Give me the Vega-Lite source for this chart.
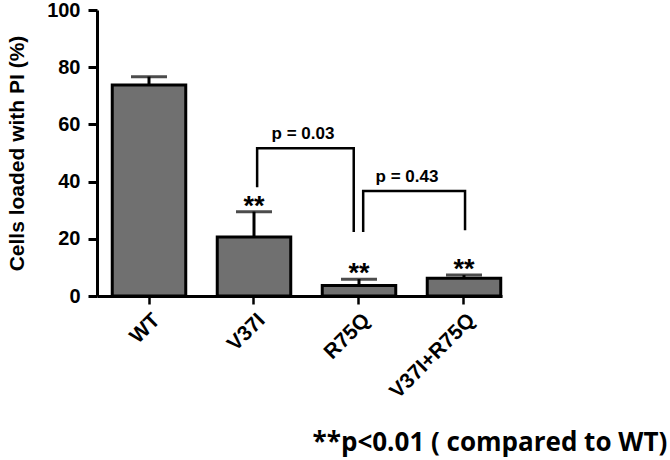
{
  "$schema": "https://vega.github.io/schema/vega-lite/v6.json",
  "width": 405,
  "height": 286,
  "autosize": "none",
  "padding": {"left": 97, "top": 10, "right": 168, "bottom": 164},
  "background": "white",
  "config": {
    "view": {"stroke": null},
    "font": "Liberation Sans",
    "axis": {"domainColor": "black", "tickColor": "black", "labelColor": "black", "titleColor": "black", "grid": false, "labelFont": "Liberation Sans", "titleFont": "Liberation Sans"}
  },
  "title": {
    "text": "**p<0.01 ( compared to WT)",
    "orient": "bottom",
    "anchor": "end",
    "font": "Open Sans",
    "fontSize": 26,
    "fontWeight": "bold",
    "color": "black",
    "dx": 165,
    "offset": 28
  },
  "datasets": {
    "bars": [
      {"g": "WT", "m": 73.8, "up": 76.7, "star": ""},
      {"g": "V37I", "m": 20.6, "up": 29.5, "star": "**"},
      {"g": "R75Q", "m": 3.7, "up": 5.9, "star": "**"},
      {"g": "V37I+R75Q", "m": 6.2, "up": 7.3, "star": "**"}
    ],
    "bracket": [
      {"b": "b1", "o": 1, "px": 1.03, "val": 38},
      {"b": "b1", "o": 2, "px": 1.03, "val": 51.7},
      {"b": "b1", "o": 3, "px": 1.95, "val": 51.7},
      {"b": "b1", "o": 4, "px": 1.95, "val": 22.4},
      {"b": "b2", "o": 1, "px": 2.04, "val": 22.4},
      {"b": "b2", "o": 2, "px": 2.04, "val": 36.7},
      {"b": "b2", "o": 3, "px": 3.01, "val": 36.7},
      {"b": "b2", "o": 4, "px": 3.01, "val": 23}
    ],
    "plabels": [
      {"t": "p = 0.03", "px": 1.467, "val": 55},
      {"t": "p = 0.43", "px": 2.457, "val": 40}
    ]
  },
  "resolve": {"scale": {"x": "independent"}},
  "layer": [
    {
      "data": {"name": "bars"},
      "encoding": {
        "x": {
          "field": "g",
          "type": "nominal",
          "sort": null,
          "scale": {"paddingInner": 0.3, "paddingOuter": 0.0786, "align": 0.924},
          "axis": {
            "title": null,
            "labelAngle": -45,
            "labelFontSize": 21,
            "labelFontWeight": "bold",
            "tickSize": 8,
            "tickWidth": 2.5,
            "domainWidth": 3,
            "labelPadding": 5
          }
        }
      },
      "layer": [
        {
          "mark": {"type": "bar", "fill": "#707070", "stroke": "black", "strokeWidth": 3},
          "encoding": {
            "y": {
              "field": "m",
              "type": "quantitative",
              "scale": {"domain": [0, 100], "nice": false},
              "axis": {
                "title": "Cells loaded with PI (%)",
                "titleFontSize": 21,
                "titleFontWeight": "bold",
                "titlePadding": 19,
                "labelFontSize": 20,
                "labelFontWeight": "bold",
                "labelPadding": 8,
                "values": [0, 20, 40, 60, 80, 100],
                "tickSize": 9,
                "tickWidth": 3,
                "domainWidth": 3
              }
            }
          }
        },
        {
          "mark": {"type": "rule", "color": "black", "strokeWidth": 3},
          "encoding": {
            "y": {"field": "m", "type": "quantitative"},
            "y2": {"field": "up"}
          }
        },
        {
          "mark": {"type": "tick", "color": "black", "size": 36, "thickness": 3},
          "encoding": {
            "y": {"field": "up", "type": "quantitative"}
          }
        },
        {
          "transform": [{"filter": "datum.star != ''"}],
          "mark": {"type": "text", "fontSize": 27, "fontWeight": "bold", "baseline": "alphabetic", "dy": 3, "color": "black"},
          "encoding": {
            "y": {"field": "up", "type": "quantitative"},
            "text": {"field": "star"}
          }
        }
      ]
    },
    {
      "data": {"name": "bracket"},
      "mark": {"type": "line", "color": "black", "strokeWidth": 2.5, "strokeJoin": "miter", "strokeCap": "butt"},
      "encoding": {
        "x": {"field": "px", "type": "quantitative", "scale": {"domain": [-0.495, 3.362], "nice": false, "zero": false}, "axis": null},
        "y": {"field": "val", "type": "quantitative"},
        "detail": {"field": "b"},
        "order": {"field": "o"}
      }
    },
    {
      "data": {"name": "plabels"},
      "mark": {"type": "text", "fontSize": 17, "fontWeight": "bold", "baseline": "alphabetic", "color": "black"},
      "encoding": {
        "x": {"field": "px", "type": "quantitative", "scale": {"domain": [-0.495, 3.362], "nice": false, "zero": false}, "axis": null},
        "y": {"field": "val", "type": "quantitative"},
        "text": {"field": "t"}
      }
    }
  ]
}
